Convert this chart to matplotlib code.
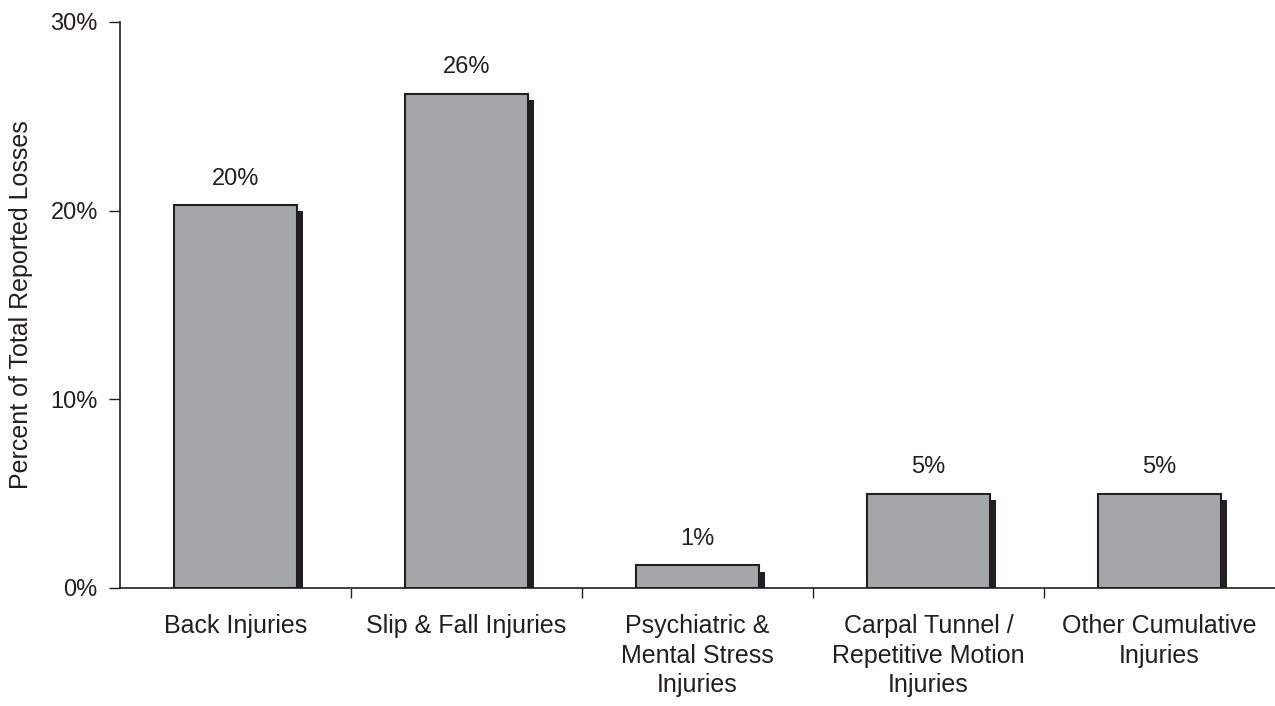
import matplotlib
matplotlib.use("Agg")
import matplotlib.pyplot as plt
import matplotlib.patheffects as pe
from matplotlib.ticker import FixedLocator, PercentFormatter

categories = [
    "Back Injuries",
    "Slip & Fall Injuries",
    "Psychiatric &\nMental Stress\nInjuries",
    "Carpal Tunnel /\nRepetitive Motion\nInjuries",
    "Other Cumulative\nInjuries",
]
values = [20.3, 26.2, 1.2, 5.0, 5.0]
value_labels = ["20%", "26%", "1%", "5%", "5%"]

plt.rcParams["font.family"] = ["Liberation Sans", "DejaVu Sans"]
ink = "#231f20"

fig = plt.figure(figsize=(12.75, 7.06), dpi=100)
ax = fig.add_axes([120 / 1275, 118 / 706, 1 - 120 / 1275, 566 / 706])

x = range(len(categories))
bars = ax.bar(x, values, width=0.53, color="#a4a7aa", edgecolor=ink,
              linewidth=1.5, zorder=3)
for b in bars:
    b.set_path_effects([
        pe.SimplePatchShadow(offset=(4.5, -4.5), shadow_rgbFace=ink, alpha=1.0),
        pe.Normal(),
    ])

for xi, v, lab in zip(x, values, value_labels):
    ax.annotate(lab, (xi, v), xytext=(0, 11), textcoords="offset points",
                ha="center", va="bottom", fontsize=17, color=ink)

ax.set_xlim(-0.5, len(categories) - 0.5)
ax.set_ylim(0, 30)
ax.set_yticks([0, 10, 20, 30])
ax.yaxis.set_major_formatter(PercentFormatter(decimals=0))
ax.set_ylabel("Percent of Total Reported Losses", fontsize=18, color=ink)
ax.yaxis.set_label_coords(-0.075, 0.5)

ax.set_xticks(list(x))
ax.set_xticklabels(categories, fontsize=18, color=ink, linespacing=1.27)
ax.tick_params(axis="x", which="major", length=0, pad=19)
ax.xaxis.set_minor_locator(FixedLocator([0.5, 1.5, 2.5, 3.5]))
ax.tick_params(axis="x", which="minor", length=7, width=1, color=ink, direction="out")
ax.tick_params(axis="y", length=8, width=1, color=ink, labelsize=17,
               labelcolor=ink, pad=8)

for s in ["top", "right"]:
    ax.spines[s].set_visible(False)
for s in ["left", "bottom"]:
    ax.spines[s].set_color(ink)
    ax.spines[s].set_linewidth(1.2)
ax.spines["bottom"].set_zorder(2)

fig.savefig("out.png", dpi=100)
